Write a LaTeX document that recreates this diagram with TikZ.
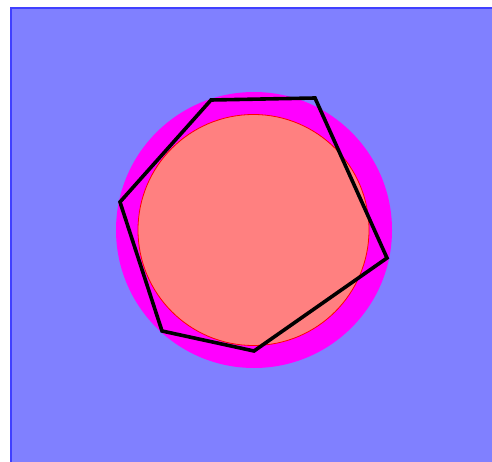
\documentclass[tikz,border=0pt]{standalone}
\definecolor{mag}{RGB}{255,0,255}
\definecolor{bgfill}{RGB}{128,128,255}
\definecolor{bgedge}{RGB}{64,64,255}
\definecolor{salmon}{RGB}{255,128,128}
\begin{document}
\begin{tikzpicture}[x=1pt,y=-1pt,
  bgline/.style={draw=bgedge,line width=2pt},
  poly/.style={draw=black,line width=3.6pt,line join=miter}]
\useasboundingbox (0,0) rectangle (492,462);
\fill[bgfill] (10,7) rectangle (492,462);
\draw[bgline] (11,462) -- (11,8) -- (492,8);
\fill[mag] (254,230) circle (138);
\filldraw[fill=salmon, draw=red, line width=0.8pt] (253.5,230) circle (115.5);
\coordinate (p1) at (211,100);
\coordinate (p2) at (315,98);
\coordinate (p3) at (387,258);
\coordinate (p4) at (254,351);
\coordinate (p5) at (162,331);
\coordinate (p6) at (120,202);
\draw[poly] (p1) -- (p2) -- (p3) -- (p4) -- (p5) -- (p6) -- cycle;
\end{tikzpicture}
\end{document}
